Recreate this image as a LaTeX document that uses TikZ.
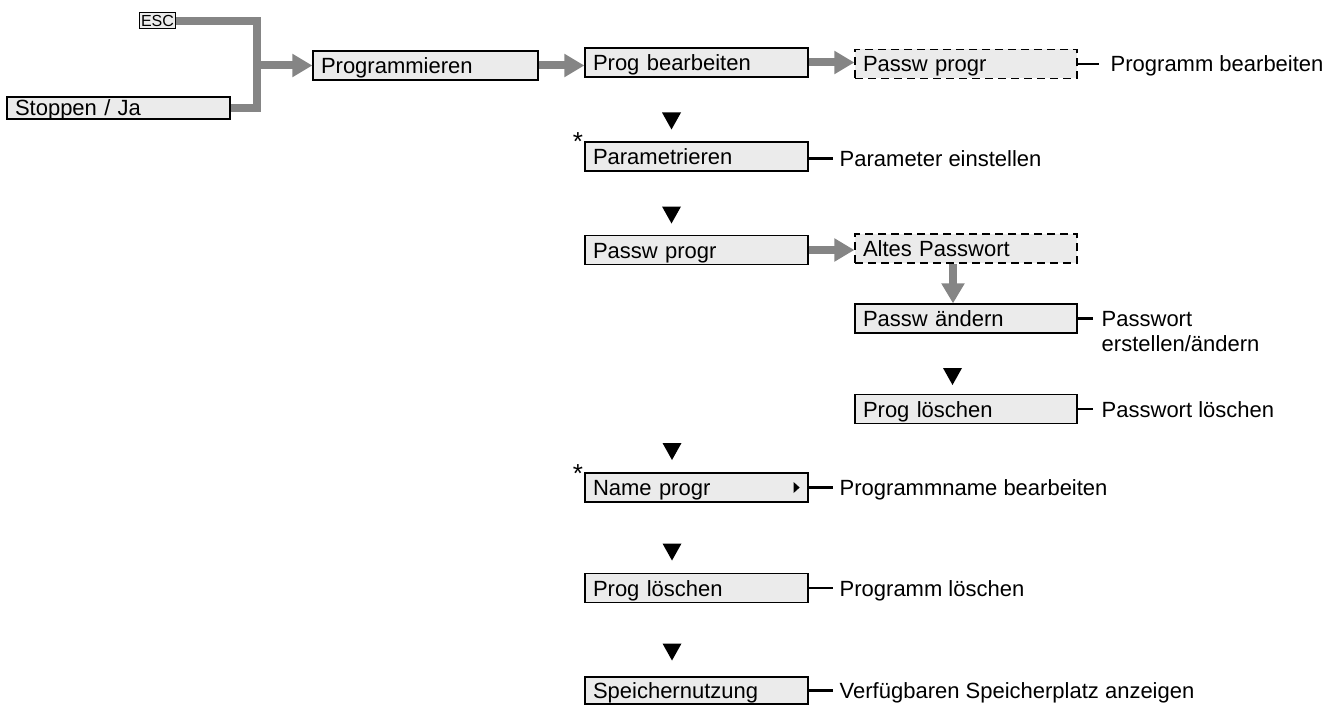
\documentclass[tikz,border=0pt]{standalone}
\usepackage{fontspec}
\setmainfont{Liberation Sans}
\usetikzlibrary{arrows.meta}
\definecolor{boxfill}{HTML}{EBEBEB}
\definecolor{arrowgray}{HTML}{858585}
\begin{document}
\begin{tikzpicture}[x=1pt,y=-1pt,
  every node/.style={font=\fontsize{22pt}{25pt}\selectfont},
  box/.style={draw=black, line width=1.2pt, fill=boxfill, minimum height=29pt,
    text width=207pt, inner xsep=8pt, inner ysep=0pt, align=left,
    text height=16pt, text depth=0pt},
  dbox/.style={box, text width=206pt, dash pattern=on 8pt off 5pt},
  escbox/.style={draw=black, line width=1pt, fill=boxfill,
    font=\fontsize{16pt}{16pt}\selectfont, inner xsep=1.5pt, inner ysep=0pt,
    minimum height=16pt, text height=11.5pt, text depth=0pt},
  gline/.style={draw=arrowgray, line width=8pt},
  garrow/.style={gline, -{Triangle[length=20pt,width=22pt]}},
  tie/.style={draw=black, line width=2.2pt},
  lbl/.style={anchor=base west, inner sep=0pt, xshift=6pt, yshift=-8pt, align=left},
  asterisk/.style={inner sep=0pt, font=\fontsize{26pt}{26pt}\selectfont},
  downtri/.pic={\fill[black] (-9.5,-8.5) -- (9.5,-8.5) -- (0,8.5) -- cycle;},
  smalltri/.pic={\fill[black] (-3,-5.5) -- (3,0) -- (-3,5.5) -- cycle;}
]
\useasboundingbox (0,0) rectangle (1333,706);

% boxes
\node[escbox] (esc) at (157.5,21) {ESC};
\node[box, minimum height=22pt] (stop) at (118.5,108) {Stoppen / Ja};
\node[box, text width=209pt] (prog) at (425.5,65.5) {Programmieren};
\node[box] (progb) at (696.5,62.5) {Prog bearbeiten};
\node[dbox] (pw1) at (966,64) {Passw progr};
\node[box] (param) at (696.5,156.5) {Parametrieren};
\node[box] (pw2) at (696.5,250) {Passw progr};
\node[dbox] (altes) at (966,248.5) {Altes Passwort};
\node[box, text width=206pt] (pwand) at (966,318.5) {Passw ändern};
\node[box, text width=206pt] (plsub) at (966,409) {Prog löschen};
\node[box] (name) at (696.5,487.5) {Name progr};
\node[box] (plmain) at (696.5,588) {Prog löschen};
\node[box, minimum height=27pt] (speich) at (696.5,690.5) {Speichernutzung};

% asterisks
\node[asterisk] (st1) at (578,142) {*};
\node[asterisk] (st2) at (578,474) {*};

% small triangle in Name progr
\pic at ([xshift=-12pt]name.east) {smalltri};

% down triangles
\pic at (671.5,121) {downtri};
\pic at (671.5,215) {downtri};
\pic at (952.5,376.5) {downtri};
\pic at (672,451.5) {downtri};
\pic at (672,552) {downtri};
\pic at (672,652) {downtri};

% gray connectors
\coordinate (jx) at (257,65.5);
\draw[gline] (esc.east) -| (jx) |- (stop.east);
\draw[garrow] (jx) -- (prog.west);
\draw[garrow] (prog.east) -- (prog.east -| progb.west);
\draw[garrow] (progb.east) -- (progb.east -| pw1.west);
\draw[garrow] (pw2.east) -- (pw2.east -| altes.west);
\draw[garrow] ([xshift=-13pt]altes.south) -- ([xshift=-13pt]altes.south |- pwand.north);

% descriptions
\draw[tie] (pw1.east) -- ++(21,0) node[lbl, xshift=5pt] (l1) {Programm bearbeiten};
\draw[tie] ([yshift=-2pt]param.east) -- ++(24,0) node[lbl] (l2) {Parameter einstellen};
\draw[tie] (pwand.east) -- ++(15,0) node[lbl, xshift=2pt, yshift=-25pt] (l3) {Passwort\\erstellen/ändern};
\draw[tie] (plsub.east) -- ++(15,0) node[lbl, xshift=2pt] (l4) {Passwort löschen};
\draw[tie] (name.east) -- ++(24,0) node[lbl] (l5) {Programmname bearbeiten};
\draw[tie] (plmain.east) -- ++(24,0) node[lbl] (l6) {Programm löschen};
\draw[tie] (speich.east) -- ++(24,0) node[lbl] (l7) {Verfügbaren Speicherplatz anzeigen};
\end{tikzpicture}
\end{document}
